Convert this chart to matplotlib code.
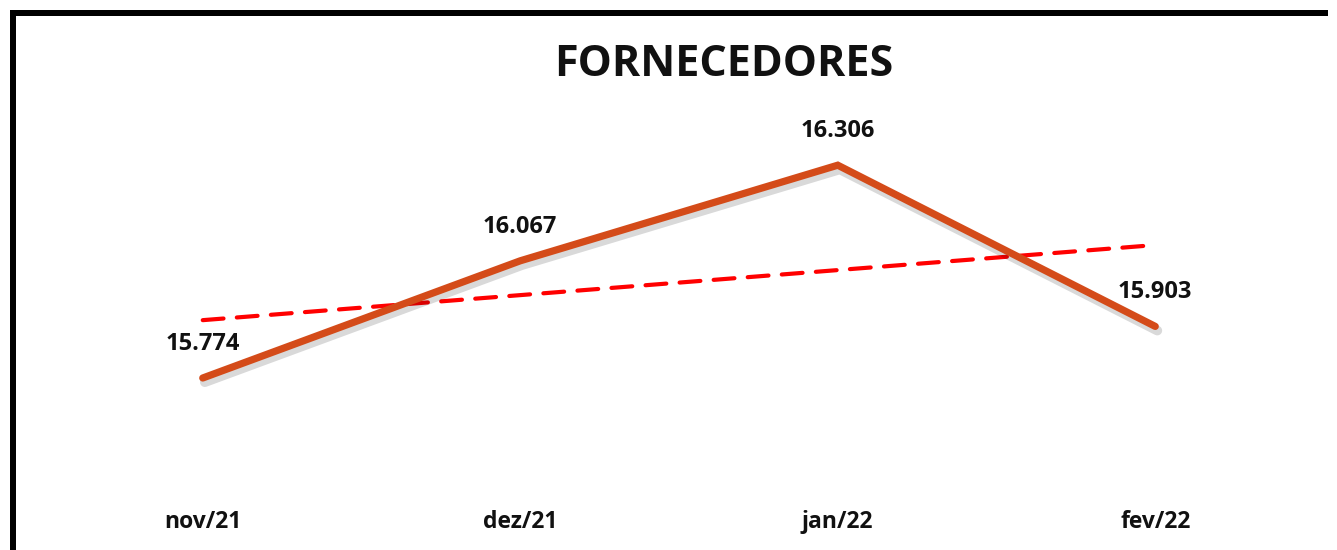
import matplotlib
matplotlib.use("Agg")
import matplotlib.pyplot as plt
import matplotlib.patheffects as pe
from matplotlib.patches import Rectangle
import numpy as np

categories = ["nov/21", "dez/21", "jan/22", "fev/22"]
values = [15.774, 16.067, 16.306, 15.903]
labels = ["15.774", "16.067", "16.306", "15.903"]
title = "FORNECEDORES"

W, H = 1337, 550
fig = plt.figure(figsize=(W / 100, H / 100), dpi=100)
plt.rcParams['font.family'] = ['Open Sans', 'DejaVu Sans']

ax = fig.add_axes([44 / W, 1 - 470 / H, (1314 - 44) / W, (470 - 100) / H])
ax.set_xlim(-0.5, 3.5)
ymin = values[0] - (470 - 378) / 400
ymax = values[0] + (378 - 100) / 400
ax.set_ylim(ymin, ymax)
ax.axis('off')

x = np.arange(len(values))
ax.plot(x, values, color='#D44B19', lw=5.2, solid_capstyle='round', solid_joinstyle='miter',
        path_effects=[pe.SimpleLineShadow(offset=(1.5, -3), shadow_color='black', alpha=0.15, linewidth=7),
                      pe.Normal()], zorder=3)

# linear trendline
coef = np.polyfit(x, values, 1)
ax.plot(x, np.polyval(coef, x), color='#FF0000', lw=3, dashes=(5, 3.2),
        dash_capstyle='round', zorder=2)

for xi, v, lab in zip(x, values, labels):
    ax.annotate(lab, (xi, v), xytext=(0, 24.5), textcoords='offset points',
                ha='center', va='center', fontsize=17, fontweight='bold', color='#111111')

for xi, c in zip(x, categories):
    ax.annotate(c, (xi, 0), xycoords=('data', 'figure fraction'), xytext=(0, (H - 522) * 0.72),
                textcoords='offset points', ha='center', va='center',
                fontsize=16.5, fontweight='bold', color='#111111')

fig.text(724 / W, 1 - 65 / H, title, ha='center', va='center', fontsize=31,
         fontweight='bold', color='#111111')

# frame border (only left and top edges visible), drawn as filled bars
fig.patches.append(Rectangle((9.5 / W, 0.0), 6 / W, 1 - 10.5 / H, transform=fig.transFigure,
                             facecolor='black', edgecolor='none', lw=0))
fig.patches.append(Rectangle((9.5 / W, 1 - 15.8 / H), (1328 - 9.5) / W, 5.3 / H,
                             transform=fig.transFigure,
                             facecolor='black', edgecolor='none', lw=0))

fig.savefig("out.png", dpi=100)
